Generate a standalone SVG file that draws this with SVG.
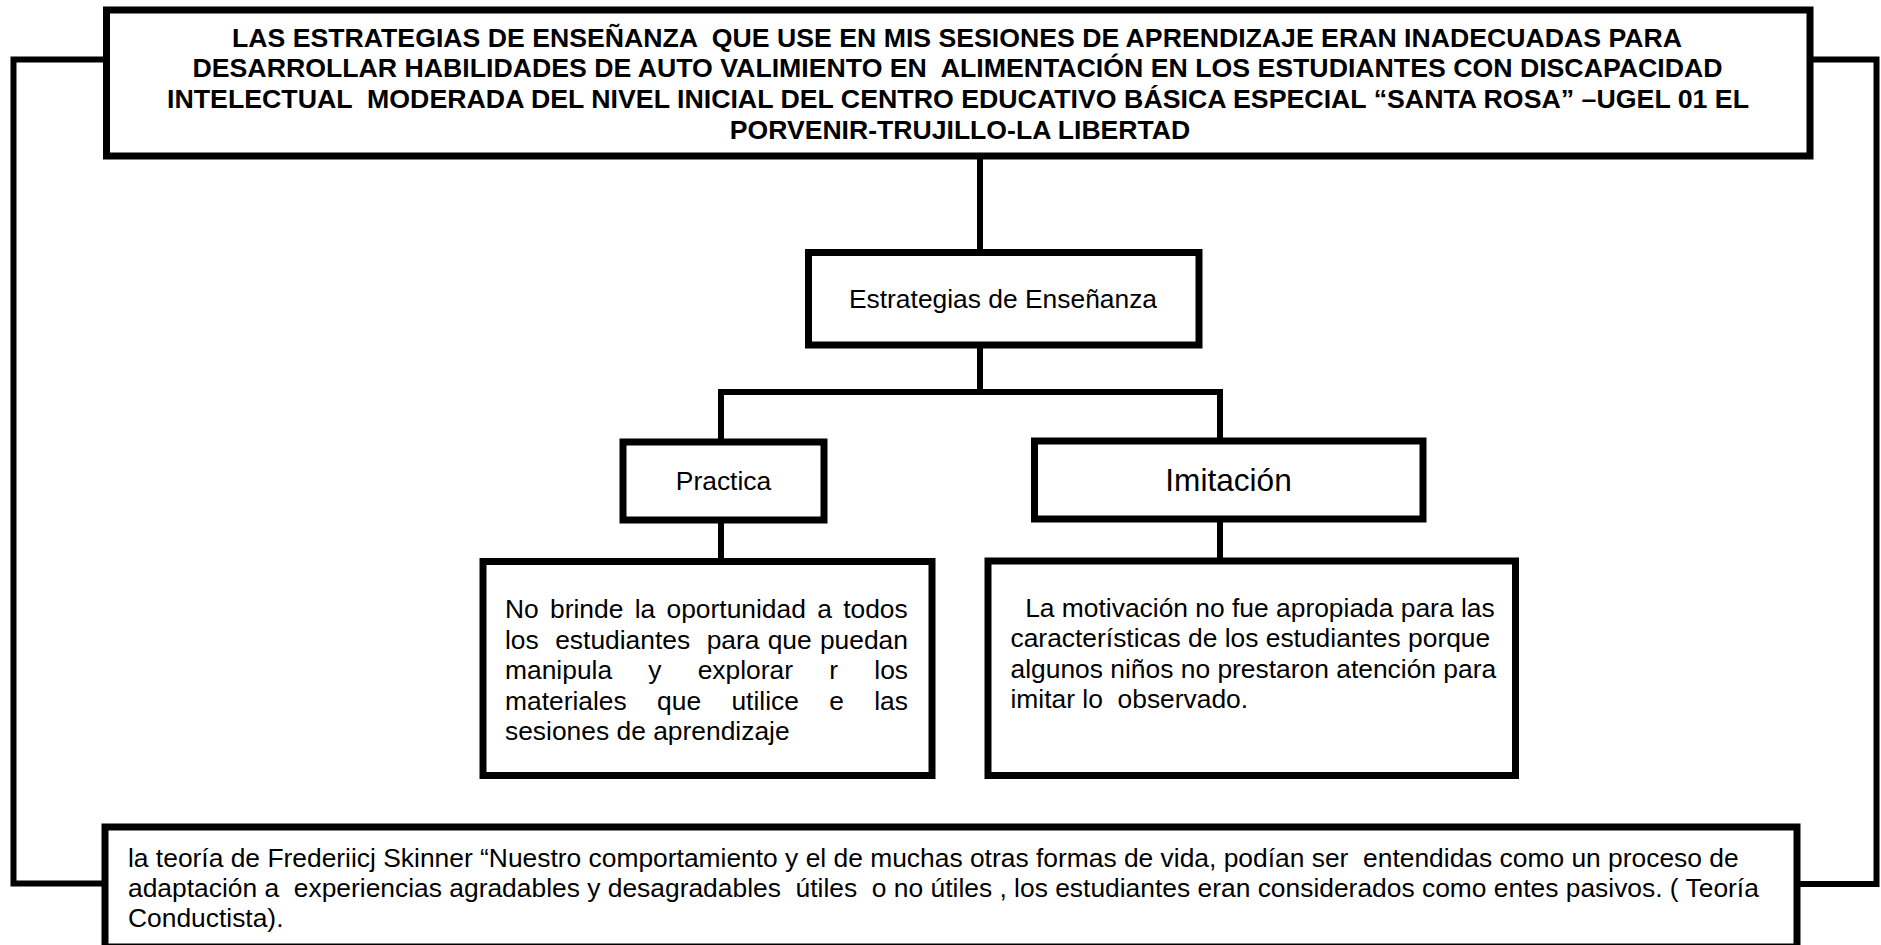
<svg xmlns="http://www.w3.org/2000/svg" width="1881" height="945" viewBox="0 0 1881 945">
<style>
.box{fill:#fff;stroke:#000;stroke-width:7}
.con{fill:none;stroke:#000;stroke-width:6}
.t{font-family:"Liberation Sans",Arial,sans-serif;font-size:26.4px;fill:#000}
.tb{font-family:"Liberation Sans",Arial,sans-serif;font-size:26.6px;font-weight:bold;fill:#000}
</style>
<rect width="1881" height="945" fill="#fff"/>
<g id="connectors">
<polyline class="con" points="106,59.5 13.5,59.5 13.5,883.5 105,883.5"/>
<polyline class="con" points="1810,59.5 1876.5,59.5 1876.5,884 1797,884"/>
<line class="con" x1="980" y1="156" x2="980" y2="252"/>
<line class="con" x1="980" y1="345" x2="980" y2="392"/>
<polyline class="con" points="721,442 721,392 1220,392 1220,441"/>
<line class="con" x1="721" y1="520" x2="721" y2="561"/>
<line class="con" x1="1220" y1="519" x2="1220" y2="561"/>
</g>
<g id="problem">
<rect class="box" x="106.5" y="10" width="1703.5" height="146"/>
<text class="tb" text-anchor="middle" xml:space="preserve" x="957" y="46.7" textLength="1450" lengthAdjust="spacingAndGlyphs">LAS ESTRATEGIAS DE ENSEÑANZA  QUE USE EN MIS SESIONES DE APRENDIZAJE ERAN INADECUADAS PARA</text>
<text class="tb" text-anchor="middle" xml:space="preserve" x="957.5" y="77.3" textLength="1530" lengthAdjust="spacingAndGlyphs">DESARROLLAR HABILIDADES DE AUTO VALIMIENTO EN  ALIMENTACIÓN EN LOS ESTUDIANTES CON DISCAPACIDAD</text>
<text class="tb" text-anchor="middle" xml:space="preserve" x="958" y="108.3" textLength="1582" lengthAdjust="spacingAndGlyphs">INTELECTUAL  MODERADA DEL NIVEL INICIAL DEL CENTRO EDUCATIVO BÁSICA ESPECIAL “SANTA ROSA” –UGEL 01 EL</text>
<text class="tb" text-anchor="middle" x="960" y="138.8">PORVENIR-TRUJILLO-LA LIBERTAD</text>
</g>
<g id="estrategias">
<rect class="box" x="808.5" y="252.5" width="390.5" height="92.5"/>
<text class="t" x="1003" y="308" text-anchor="middle">Estrategias de Enseñanza</text>
</g>
<g id="practica">
<rect class="box" x="623" y="442" width="201" height="78"/>
<text class="t" x="723.5" y="490" text-anchor="middle">Practica</text>
</g>
<g id="imitacion">
<rect class="box" x="1034.5" y="441" width="388.5" height="78"/>
<text class="t" x="1228.5" y="491" text-anchor="middle" style="font-size:31.6px">Imitación</text>
</g>
<g id="practica-desc">
<rect class="box" x="483" y="561.5" width="449" height="214"/>
<text class="t"><tspan x="505" y="618">No</tspan><tspan x="550" y="618">brinde</tspan><tspan x="634.7" y="618">la</tspan><tspan x="666.5" y="618">oportunidad</tspan><tspan x="817.2" y="618">a</tspan><tspan x="843.2" y="618">todos</tspan></text>
<text class="t"><tspan x="505" y="649">los</tspan><tspan x="555.2" y="649">estudiantes</tspan><tspan x="706.7" y="649">para</tspan><tspan x="767.7" y="649">que</tspan><tspan x="819.9" y="649">puedan</tspan></text>
<text class="t"><tspan x="505" y="679">manipula</tspan><tspan x="648.3" y="679">y</tspan><tspan x="697.7" y="679">explorar</tspan><tspan x="829.3" y="679">r</tspan><tspan x="874.3" y="679">los</tspan></text>
<text class="t"><tspan x="505" y="710">materiales</tspan><tspan x="657.1" y="710">que</tspan><tspan x="731.4" y="710">utilice</tspan><tspan x="829.2" y="710">e</tspan><tspan x="874.2" y="710">las</tspan></text>
<text class="t" x="505" y="740">sesiones de aprendizaje</text>
</g>
<g id="imitacion-desc">
<rect class="box" x="988" y="561" width="527.5" height="214.5"/>
<text class="t" xml:space="preserve"><tspan x="1010.5" y="617">  La motivación no fue apropiada para las</tspan><tspan x="1010.5" y="647">características de los estudiantes porque</tspan><tspan x="1010.5" y="678">algunos niños no prestaron atención para</tspan><tspan x="1010.5" y="708">imitar lo  observado.</tspan></text>
</g>
<g id="teoria">
<rect class="box" x="105" y="827" width="1692" height="120"/>
<text class="t" xml:space="preserve"><tspan x="128" y="867">la teoría de Frederiicj Skinner “Nuestro comportamiento y el de muchas otras formas de vida, podían ser  entendidas como un proceso de</tspan><tspan x="128" y="897">adaptación a  experiencias agradables y desagradables  útiles  o no útiles , los estudiantes eran considerados como entes pasivos. ( Teoría</tspan><tspan x="128" y="927">Conductista).</tspan></text>
</g>
</svg>
